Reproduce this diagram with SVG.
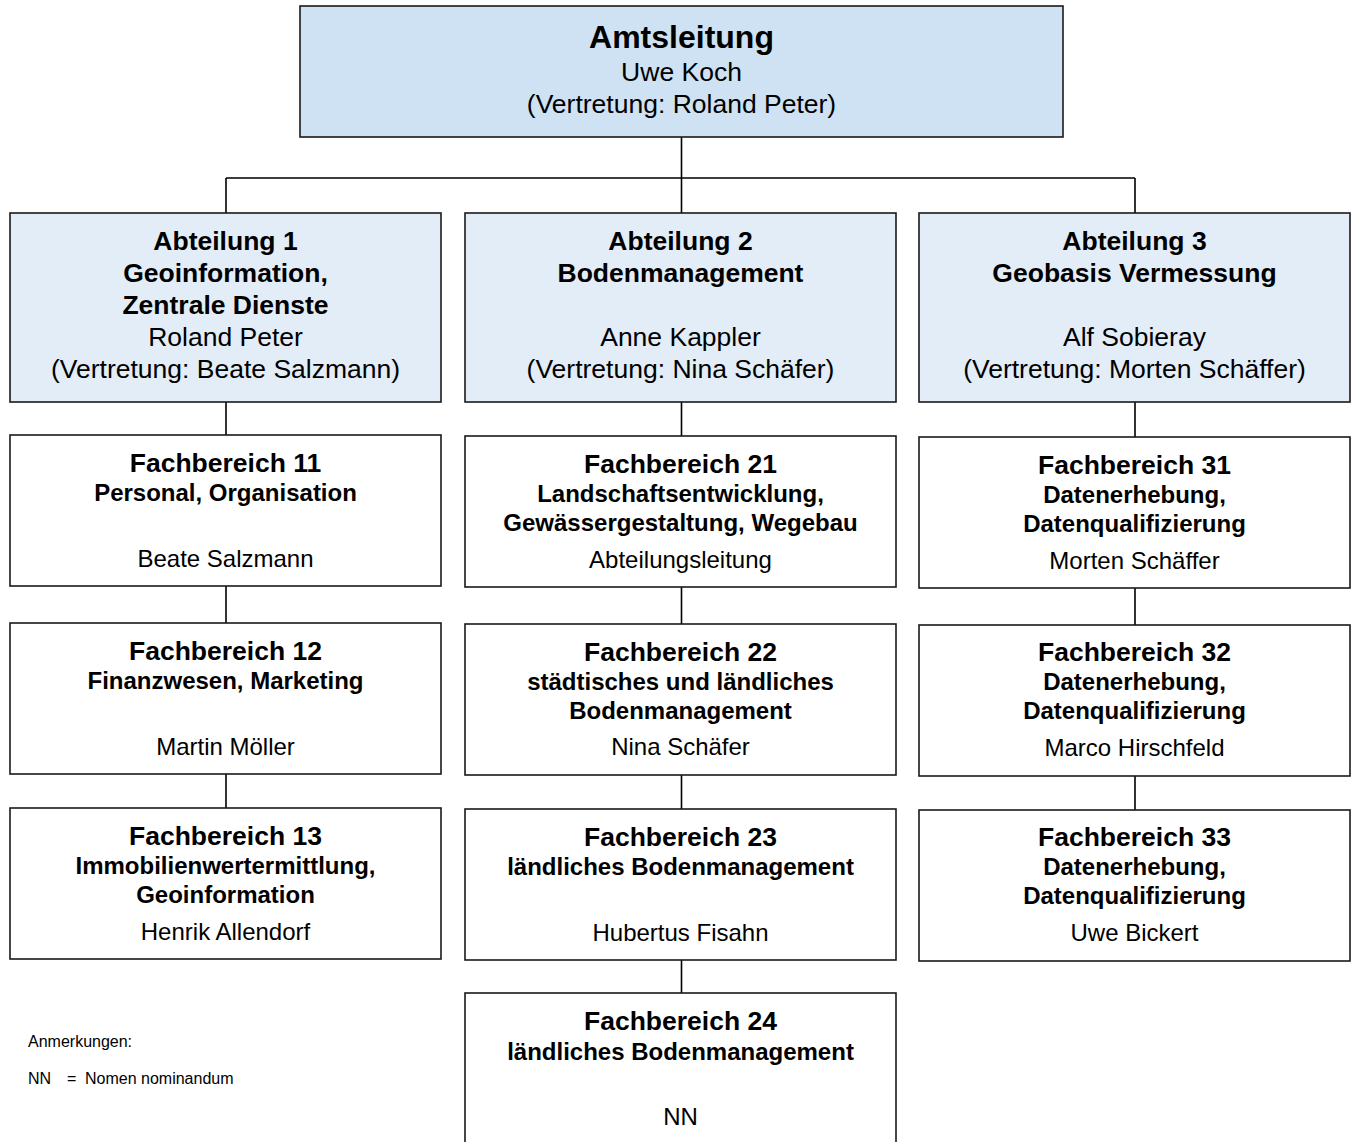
<svg xmlns="http://www.w3.org/2000/svg" width="1357" height="1142" viewBox="0 0 1357 1142">
<style>
text { font-family: "Liberation Sans", Arial, sans-serif; fill: #000; text-anchor: middle; }
.box { fill: #fff; stroke: #1a1a1a; stroke-width: 1.6; }
.top { fill: #cfe2f3; stroke: #1a1a1a; stroke-width: 1.6; }
.abt { fill: #e2edf8; stroke: #1a1a1a; stroke-width: 1.6; }
.t0 { font-size: 32px; font-weight: bold; }
.t1 { font-size: 26.5px; }
.hb { font-size: 26.5px; font-weight: bold; }
.sb { font-size: 24px; font-weight: bold; }
.nm { font-size: 24px; }
.note { font-size: 16px; text-anchor: start; }
.conn { stroke: #000; stroke-width: 1.6; fill: none; }
</style>

<g id="connectors">
  <path class="conn" d="M681.5 137 V178 M226 178 H1135 M226 178 V213 M681.5 178 V213 M1135 178 V213"/>
  <path class="conn" d="M226 402 V435 M226 586 V623 M226 774 V808"/>
  <path class="conn" d="M681.5 402 V436 M681.5 587 V624 M681.5 775 V809 M681.5 960 V993"/>
  <path class="conn" d="M1135 402 V437 M1135 588 V625 M1135 776 V810"/>
</g>

<g id="amtsleitung">
  <rect class="top" x="300" y="6" width="763" height="131"/>
  <text class="t0" x="681.5" y="48">Amtsleitung</text>
  <text class="t1" x="681.5" y="81">Uwe Koch</text>
  <text class="t1" x="681.5" y="113">(Vertretung: Roland Peter)</text>
</g>

<g id="abteilung1">
  <rect class="abt" x="10" y="213" width="431" height="189"/>
  <text class="hb" x="225.5" y="250">Abteilung 1</text>
  <text class="hb" x="225.5" y="282">Geoinformation,</text>
  <text class="hb" x="225.5" y="314">Zentrale Dienste</text>
  <text class="t1" x="225.5" y="346">Roland Peter</text>
  <text class="t1" x="225.5" y="378">(Vertretung: Beate Salzmann)</text>
</g>

<g id="abteilung2">
  <rect class="abt" x="465" y="213" width="431" height="189"/>
  <text class="hb" x="680.5" y="250">Abteilung 2</text>
  <text class="hb" x="680.5" y="282">Bodenmanagement</text>
  <text class="t1" x="680.5" y="346">Anne Kappler</text>
  <text class="t1" x="680.5" y="378">(Vertretung: Nina Schäfer)</text>
</g>

<g id="abteilung3">
  <rect class="abt" x="919" y="213" width="431" height="189"/>
  <text class="hb" x="1134.5" y="250">Abteilung 3</text>
  <text class="hb" x="1134.5" y="282">Geobasis Vermessung</text>
  <text class="t1" x="1134.5" y="346">Alf Sobieray</text>
  <text class="t1" x="1134.5" y="378">(Vertretung: Morten Schäffer)</text>
</g>

<g id="fb11">
  <rect class="box" x="10" y="435" width="431" height="151"/>
  <text class="hb" x="225.5" y="472">Fachbereich 11</text>
  <text class="sb" x="225.5" y="501">Personal, Organisation</text>
  <text class="nm" x="225.5" y="567">Beate Salzmann</text>
</g>

<g id="fb12">
  <rect class="box" x="10" y="623" width="431" height="151"/>
  <text class="hb" x="225.5" y="660">Fachbereich 12</text>
  <text class="sb" x="225.5" y="689">Finanzwesen, Marketing</text>
  <text class="nm" x="225.5" y="755">Martin Möller</text>
</g>

<g id="fb13">
  <rect class="box" x="10" y="808" width="431" height="151"/>
  <text class="hb" x="225.5" y="845">Fachbereich 13</text>
  <text class="sb" x="225.5" y="874">Immobilienwertermittlung,</text>
  <text class="sb" x="225.5" y="903">Geoinformation</text>
  <text class="nm" x="225.5" y="940">Henrik Allendorf</text>
</g>

<g id="fb21">
  <rect class="box" x="465" y="436" width="431" height="151"/>
  <text class="hb" x="680.5" y="473">Fachbereich 21</text>
  <text class="sb" x="680.5" y="502">Landschaftsentwicklung,</text>
  <text class="sb" x="680.5" y="531">Gewässergestaltung, Wegebau</text>
  <text class="nm" x="680.5" y="568">Abteilungsleitung</text>
</g>

<g id="fb22">
  <rect class="box" x="465" y="624" width="431" height="151"/>
  <text class="hb" x="680.5" y="661">Fachbereich 22</text>
  <text class="sb" x="680.5" y="690">städtisches und ländliches</text>
  <text class="sb" x="680.5" y="719">Bodenmanagement</text>
  <text class="nm" x="680.5" y="755">Nina Schäfer</text>
</g>

<g id="fb23">
  <rect class="box" x="465" y="809" width="431" height="151"/>
  <text class="hb" x="680.5" y="846">Fachbereich 23</text>
  <text class="sb" x="680.5" y="875">ländliches Bodenmanagement</text>
  <text class="nm" x="680.5" y="941">Hubertus Fisahn</text>
</g>

<g id="fb24">
  <rect class="box" x="465" y="993" width="431" height="160"/>
  <text class="hb" x="680.5" y="1030">Fachbereich 24</text>
  <text class="sb" x="680.5" y="1060">ländliches Bodenmanagement</text>
  <text class="nm" x="680.5" y="1125">NN</text>
</g>

<g id="fb31">
  <rect class="box" x="919" y="437" width="431" height="151"/>
  <text class="hb" x="1134.5" y="474">Fachbereich 31</text>
  <text class="sb" x="1134.5" y="503">Datenerhebung,</text>
  <text class="sb" x="1134.5" y="532">Datenqualifizierung</text>
  <text class="nm" x="1134.5" y="569">Morten Schäffer</text>
</g>

<g id="fb32">
  <rect class="box" x="919" y="625" width="431" height="151"/>
  <text class="hb" x="1134.5" y="661">Fachbereich 32</text>
  <text class="sb" x="1134.5" y="690">Datenerhebung,</text>
  <text class="sb" x="1134.5" y="719">Datenqualifizierung</text>
  <text class="nm" x="1134.5" y="756">Marco Hirschfeld</text>
</g>

<g id="fb33">
  <rect class="box" x="919" y="810" width="431" height="151"/>
  <text class="hb" x="1134.5" y="846">Fachbereich 33</text>
  <text class="sb" x="1134.5" y="875">Datenerhebung,</text>
  <text class="sb" x="1134.5" y="904">Datenqualifizierung</text>
  <text class="nm" x="1134.5" y="941">Uwe Bickert</text>
</g>

<g id="anmerkungen">
  <text class="note" x="28" y="1047">Anmerkungen:</text>
  <text class="note" x="28" y="1084">NN<tspan x="67">=</tspan><tspan x="85">Nomen nominandum</tspan></text>
</g>
</svg>
